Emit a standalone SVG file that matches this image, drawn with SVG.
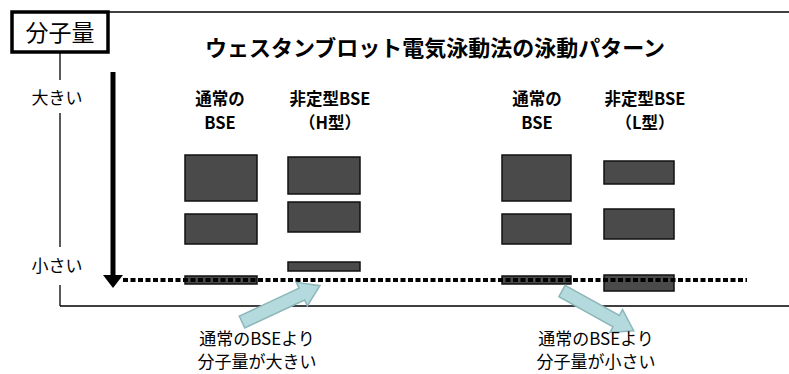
<svg xmlns="http://www.w3.org/2000/svg" width="789" height="374" viewBox="0 0 789 374">
<style>
  .frame { fill: none; stroke: #000; stroke-width: 1.3; }
  .band { fill: #4a4a4a; stroke: #111; stroke-width: 1.5; }
  .t { font-family: "Noto Sans CJK JP", "Liberation Sans", sans-serif; fill: #000; text-anchor: middle; }
  .b { font-weight: bold; }
  .h { font-size: 16.5px; }
  .n { font-size: 17px; }
  .callout { fill: #b4dadd; stroke: #8db7ba; stroke-width: 1.5; }
</style>
<rect width="789" height="374" fill="#fff"/>
<g id="frame">
  <line class="frame" x1="108" y1="12" x2="789" y2="12"/>
  <line class="frame" x1="60" y1="52" x2="60" y2="80"/>
  <line class="frame" x1="60" y1="113" x2="60" y2="247"/>
  <line class="frame" x1="60" y1="285" x2="60" y2="306"/>
  <line class="frame" x1="60" y1="306" x2="789" y2="306"/>
</g>
<g id="axis-title">
  <rect x="12" y="12" width="96" height="40" fill="#fff" stroke="#000" stroke-width="3.5"/>
  <text class="t" x="60" y="41" font-size="23">分子量</text>
</g>
<g id="title">
  <text class="t b" x="435" y="56" font-size="22">ウェスタンブロット電気泳動法の泳動パターン</text>
</g>
<g id="axis-labels">
  <text class="t" x="57" y="104" font-size="17">大きい</text>
  <text class="t" x="57" y="272" font-size="17">小さい</text>
</g>
<g id="axis-arrow">
  <line x1="113" y1="72" x2="113" y2="277" stroke="#000" stroke-width="5"/>
  <polygon points="103,275 123,275 113,288" fill="#000"/>
</g>
<g id="col-normal-1">
  <text class="t b h" x="220" y="105">通常の</text>
  <text class="t b h" x="220" y="129">BSE</text>
  <rect class="band" x="185" y="155" width="72" height="46"/>
  <rect class="band" x="185" y="214" width="72" height="30"/>
  <rect class="band" x="185" y="276" width="72" height="8"/>
</g>
<g id="col-H">
  <text class="t b h" x="330" y="105">非定型BSE</text>
  <text class="t b h" x="330" y="129">（H型）</text>
  <rect class="band" x="288" y="157" width="72" height="37"/>
  <rect class="band" x="288" y="202" width="72" height="30"/>
  <rect class="band" x="288" y="262" width="72" height="9"/>
</g>
<g id="col-normal-2">
  <text class="t b h" x="537" y="105">通常の</text>
  <text class="t b h" x="537" y="129">BSE</text>
  <rect class="band" x="502" y="155" width="69" height="46"/>
  <rect class="band" x="502" y="214" width="69" height="30"/>
  <rect class="band" x="502" y="276" width="69" height="8"/>
</g>
<g id="col-L">
  <text class="t b h" x="645" y="105">非定型BSE</text>
  <text class="t b h" x="645" y="129">（L型）</text>
  <rect class="band" x="604" y="161" width="70" height="23"/>
  <rect class="band" x="604" y="209" width="70" height="30"/>
  <rect class="band" x="604" y="275" width="70" height="16"/>
</g>
<g id="connectors">
  <line x1="123" y1="280" x2="747" y2="280" stroke="#000" stroke-width="4" stroke-dasharray="5 2.5"/>
  <polygon class="callout" transform="translate(242,322) rotate(-25)" points="0,-6.5 66,-6.5 66,-13 86,0 66,13 66,6.5 0,6.5"/>
  <polygon class="callout" transform="translate(562,291) rotate(29)" points="0,-6.5 62,-6.5 62,-13 82,0 62,13 62,6.5 0,6.5"/>
</g>
<g id="note-larger">
  <text class="t n" x="257" y="345">通常のBSEより</text>
  <text class="t n" x="257" y="368">分子量が大きい</text>
</g>
<g id="note-smaller">
  <text class="t n" x="596" y="345">通常のBSEより</text>
  <text class="t n" x="596" y="368">分子量が小さい</text>
</g>
</svg>
